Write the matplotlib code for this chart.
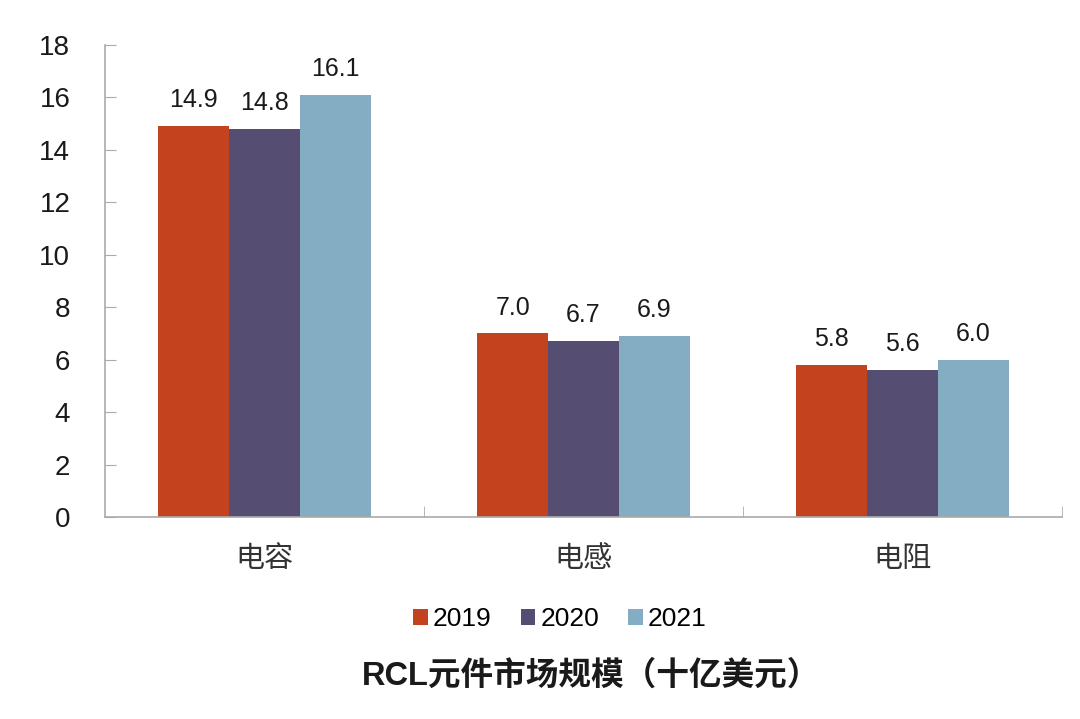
import matplotlib
matplotlib.use("Agg")
import matplotlib.pyplot as plt
import numpy as np

categories = ["电容", "电感", "电阻"]
years = ["2019", "2020", "2021"]
values_2019 = [14.9, 7.0, 5.8]
values_2020 = [14.8, 6.7, 5.6]
values_2021 = [16.1, 6.9, 6.0]
yticks = [0, 2, 4, 6, 8, 10, 12, 14, 16, 18]
title = "RCL元件市场规模（十亿美元）"

colors = ["#C4431F", "#554E72", "#84ADC4"]
fonts = ["Liberation Sans", "Noto Sans CJK SC", "DejaVu Sans"]
plt.rcParams["font.family"] = fonts

fig = plt.figure(figsize=(10.8, 7.19), dpi=100)
ax = fig.add_axes([105/1080, 1-517/719, (1062-105)/1080, (517-45)/719])

x = np.arange(len(categories))
w = 0.222
series = [values_2019, values_2020, values_2021]
for i, (vals, col, yr) in enumerate(zip(series, colors, years)):
    bars = ax.bar(x + (i-1)*w, vals, width=w, color=col, label=yr, zorder=2)
    for b, v in zip(bars, vals):
        ax.annotate(f"{v:.1f}", (b.get_x()+b.get_width()/2, v), xytext=(0, 10),
                    textcoords="offset points", ha="center", va="bottom",
                    fontsize=18, color="#1a1a1a")

ax.set_xlim(-0.5, 2.5)
ax.set_ylim(0, 18)
ax.set_yticks(yticks)
ax.set_yticklabels([str(t) for t in yticks], fontsize=20, color="#1a1a1a")
ax.tick_params(axis="y", direction="in", length=8, color="#aaaaaa", pad=25)

ax.set_xticks(x)
ax.set_xticklabels(categories, fontsize=21, color="#333333")
ax.tick_params(axis="x", length=0, pad=20)
ax.set_xticks([0.5, 1.5, 2.5], minor=True)
ax.tick_params(axis="x", which="minor", direction="in", length=8, color="#aaaaaa")

for s in ["top", "right"]:
    ax.spines[s].set_visible(False)
for s in ["left", "bottom"]:
    ax.spines[s].set_color("#aaaaaa")
    ax.spines[s].set_linewidth(1.2)

fig.legend(loc="center", bbox_to_anchor=(560/1080, 1-619/719), ncol=3, frameon=False,
           fontsize=19, handlelength=0.55, handleheight=0.55, handletextpad=0.2,
           columnspacing=1.1)
fig.text(591/1080, 1-676/719, title, ha="center", va="center", fontsize=23.5,
         fontweight="bold", color="#1a1a1a")

fig.savefig("out.png", dpi=100)
